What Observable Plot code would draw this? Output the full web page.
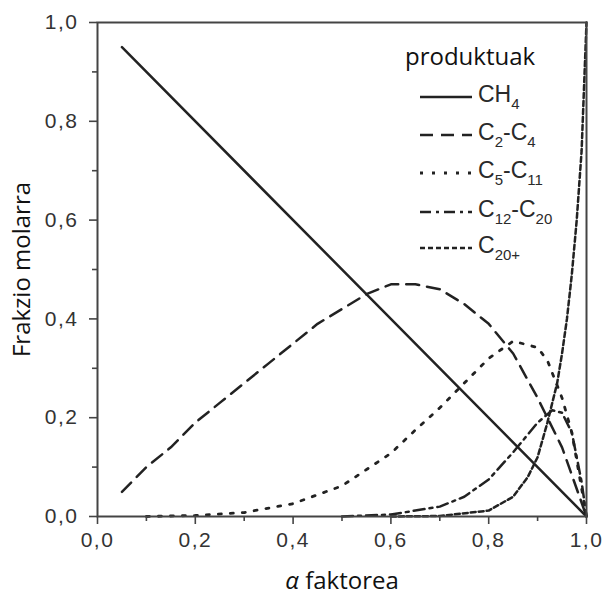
<!DOCTYPE html>
<html>
<head>
<meta charset="utf-8">
<script src="https://cdn.jsdelivr.net/npm/d3@7"></script>
<script src="https://cdn.jsdelivr.net/npm/@observablehq/plot@0.6"></script>
<style>
  html, body { margin: 0; padding: 0; background: #fff; }
  #wrap { position: relative; width: 606px; height: 596px; }
  #legend { position: absolute; left: 0; top: 0; width: 606px; height: 596px; pointer-events: none; }
  .lt { position: absolute; font-family: "Liberation Sans", Arial, sans-serif; font-size: 23px; color: #2a2a2a; line-height: 1; white-space: nowrap; }
  .lt sub { font-size: 15px; vertical-align: -7px; }
  .lh { position: absolute; font-family: "Open Sans", sans-serif; font-size: 24px; color: #111; white-space: nowrap; line-height: 1; }
  svg .tl text { letter-spacing: 1.5px; }
</style>
</head>
<body>
<div id="wrap"><div id="chart"></div><div id="legend"></div></div>
<script>
// ---- data ----
const ch4X = [0.05, 1.0];
const ch4Y = [0.95, 0.0];

const c24X = [0.05,0.1,0.15,0.2,0.25,0.3,0.35,0.4,0.45,0.5,0.55,0.6,0.65,0.7,0.75,0.8,0.85,0.9,0.95,1.0];
const c24Y = [0.05,0.10,0.14,0.19,0.23,0.27,0.31,0.35,0.39,0.42,0.45,0.47,0.47,0.46,0.43,0.39,0.33,0.24,0.14,0.0];

const c511X = [0.1,0.2,0.3,0.4,0.5,0.6,0.65,0.7,0.75,0.8,0.85,0.9,0.92,0.95,0.97,1.0];
const c511Y = [0.0,0.002,0.008,0.026,0.062,0.128,0.175,0.22,0.27,0.32,0.355,0.342,0.316,0.24,0.17,0.0];

const c1220X = [0.5,0.6,0.7,0.75,0.8,0.85,0.9,0.93,0.95,0.97,0.99,1.0];
const c1220Y = [0.0,0.004,0.02,0.04,0.075,0.13,0.19,0.215,0.21,0.17,0.07,0.0];

const c20X = [0.6,0.7,0.8,0.85,0.88,0.9,0.92,0.94,0.95,0.96,0.97,0.98,0.99,1.0];
const c20Y = [0.0,0.001,0.012,0.04,0.08,0.12,0.19,0.27,0.33,0.40,0.49,0.60,0.74,1.0];

const majorTicks = [0, 0.2, 0.4, 0.6, 0.8, 1.0];
const minorTicks = [0.1, 0.3, 0.5, 0.7, 0.9];

const seriesNames = ["CH<sub>4</sub>", "C<sub>2</sub>-C<sub>4</sub>", "C<sub>5</sub>-C<sub>11</sub>", "C<sub>12</sub>-C<sub>20</sub>", "C<sub>20+</sub>"];
const seriesDash = [null, "13,8", "3,9", "11,5,3,5", "5,3"];
const seriesWidth = [2.5, 2.5, 2.8, 2.5, 2.5];
const legendTitle = "produktuak";
const xLabel = "α faktorea";
const yLabel = "Frakzio molarra";

const toRows = (xs, ys) => xs.map((x, i) => ({x, y: ys[i]}));
const seriesData = [toRows(ch4X, ch4Y), toRows(c24X, c24Y), toRows(c511X, c511Y), toRows(c1220X, c1220Y), toRows(c20X, c20Y)];

const lineColor = "#222";
const fmt = d => d.toFixed(1).replace(".", ",");

const plot = Plot.plot({
  width: 606,
  height: 596,
  marginLeft: 97,
  marginRight: 20,
  marginTop: 22,
  marginBottom: 80,
  style: {fontFamily: "'Liberation Sans', Arial, sans-serif", color: "#333", background: "#fff"},
  x: {domain: [0, 1]},
  y: {domain: [0, 1]},
  marks: [
    ...seriesData.map((d, i) => Plot.line(d, {
      x: "x", y: "y", stroke: lineColor, strokeWidth: seriesWidth[i],
      strokeDasharray: seriesDash[i] ?? undefined
    })),
    Plot.axisX(majorTicks, {tickSize: 8, tickPadding: 8, tickFormat: fmt, fontSize: 21, stroke: "#444", strokeWidth: 1.6, label: null, className: "tl"}),
    Plot.axisX(minorTicks, {tickSize: 5, tickFormat: () => "", stroke: "#444", strokeWidth: 1.6, label: null}),
    Plot.axisY(majorTicks, {tickSize: 8, tickPadding: 11, tickFormat: fmt, fontSize: 21, stroke: "#444", strokeWidth: 1.6, label: null, className: "tl"}),
    Plot.axisY(minorTicks, {tickSize: 5, tickFormat: () => "", stroke: "#444", strokeWidth: 1.6, label: null}),
    Plot.frame({stroke: "#444", strokeWidth: 2}),
    Plot.text([yLabel], {frameAnchor: "left", textAnchor: "middle", text: d => d, rotate: -90, dx: -75, fontSize: 24, fontFamily: "'Open Sans', sans-serif", fill: "#111"}),
    Plot.text([xLabel], {frameAnchor: "bottom", textAnchor: "middle", text: d => d, dy: 72, fontSize: 24, fontFamily: "'Open Sans', sans-serif", fill: "#111", className: "xlab"})
  ]
});
document.getElementById("chart").appendChild(plot);

// italic alpha in x label
d3.select(plot).selectAll(".xlab text").each(function() {
  const t = d3.select(this);
  const s = t.text();
  t.text(null);
  t.append("tspan").attr("font-style", "italic").text(s.slice(0, 1));
  t.append("tspan").text(s.slice(1));
});

// legend (positioned over the plot area)
const legend = document.getElementById("legend");
const title = document.createElement("div");
title.className = "lh";
title.style.left = "405px";
title.style.top = "44px";
title.textContent = legendTitle;
legend.appendChild(title);

const rowY = [97, 135, 173, 212, 248];
const svgNS = "http://www.w3.org/2000/svg";
const ls = document.createElementNS(svgNS, "svg");
ls.setAttribute("width", 606);
ls.setAttribute("height", 596);
ls.style.position = "absolute";
ls.style.left = "0"; ls.style.top = "0";
legend.appendChild(ls);
seriesNames.forEach((name, i) => {
  const ln = document.createElementNS(svgNS, "line");
  ln.setAttribute("x1", 420); ln.setAttribute("x2", 472);
  ln.setAttribute("y1", rowY[i]); ln.setAttribute("y2", rowY[i]);
  ln.setAttribute("stroke", lineColor);
  ln.setAttribute("stroke-width", seriesWidth[i]);
  if (seriesDash[i]) ln.setAttribute("stroke-dasharray", seriesDash[i]);
  ls.appendChild(ln);
  const t = document.createElement("div");
  t.className = "lt";
  t.style.left = "478px";
  t.style.top = (rowY[i] - 14) + "px";
  t.innerHTML = name;
  legend.appendChild(t);
});
</script>
</body>
</html>
